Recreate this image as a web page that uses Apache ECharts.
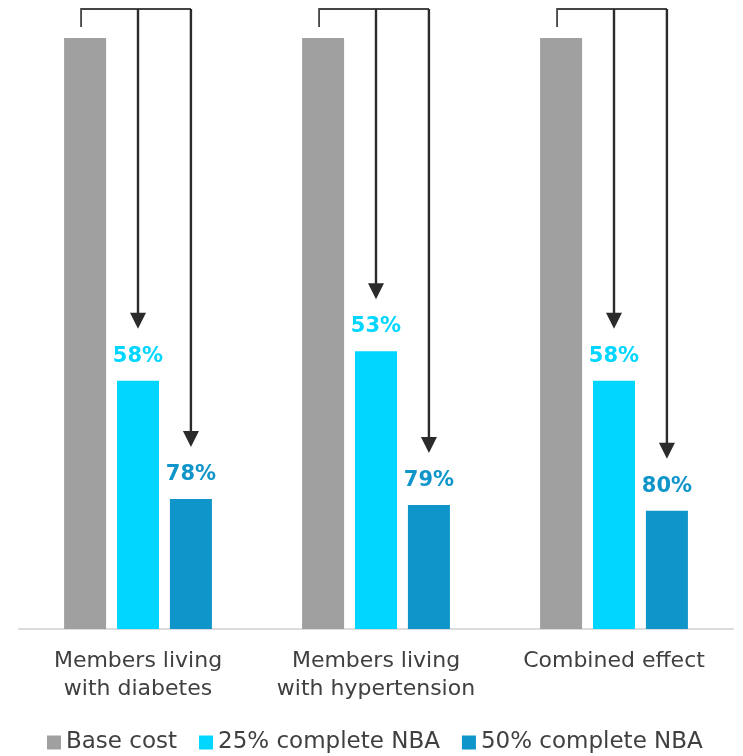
<!DOCTYPE html>
<html>
<head>
<meta charset="utf-8">
<script src="https://cdn.jsdelivr.net/npm/echarts@6/dist/echarts.min.js"></script>
<style>
  html, body { margin: 0; padding: 0; background: #ffffff; }
  #chart { width: 743px; height: 756px; }
</style>
</head>
<body>
<div id="chart"></div>
<script>
// Cost per member, indexed to base cost = 100
const categories = ['Members living\nwith diabetes', 'Members living\nwith hypertension', 'Combined effect'];
const seriesNames = ['Base cost', '25% complete NBA', '50% complete NBA'];
const baseCost = [100, 100, 100];
// Reduction in cost (percent) at each NBA completion level
const reduction25 = [58, 53, 58];
const reduction50 = [78, 79, 80];

const remaining25 = reduction25.map(r => 100 - r);
const remaining50 = reduction50.map(r => 100 - r);

const COLORS = ['#a0a0a0', '#00d6ff', '#0f95c9'];
const FONT = 'DejaVu Sans';
const BAR_W = 42;
const BAR_GAP = 0.26;

const chart = echarts.init(document.getElementById('chart'), null, { renderer: 'canvas' });

function pctLabel(values, color) {
  return {
    show: true,
    position: 'top',
    distance: 14,
    color: color,
    fontFamily: FONT,
    fontWeight: 'bold',
    fontSize: 21,
    formatter: p => values[p.dataIndex] + '%'
  };
}

// Bracket from the base bar, with arrows down to each reduced bar
function renderBracket(params, api) {
  const idx = api.value(0);
  const base = api.coord([idx, api.value(1)]);
  const p25 = api.coord([idx, api.value(2)]);
  const p50 = api.coord([idx, api.value(3)]);
  const step = BAR_W * (1 + BAR_GAP);
  const cx = base[0];
  const xs = cx - step - 4;
  const x1 = cx;
  const x2 = cx + step;
  const topY = base[1] - 29;
  const stubY = base[1] - 11;
  const tip1 = p25[1] - 52;
  const tip2 = p50[1] - 52;
  const head = 16, halfHead = 8;
  const lineStyle = { stroke: '#2b2b2b', lineWidth: 2.4, fill: null };
  const thin = { stroke: '#444444', lineWidth: 1.8, fill: null };
  return {
    type: 'group',
    children: [
      { type: 'polyline', shape: { points: [[xs, stubY], [xs, topY], [x2, topY]] }, style: thin },
      { type: 'line', shape: { x1: x1, y1: topY, x2: x1, y2: tip1 - head + 1 }, style: lineStyle },
      { type: 'line', shape: { x1: x2, y1: topY, x2: x2, y2: tip2 - head + 1 }, style: lineStyle },
      { type: 'polygon', shape: { points: [[x1 - halfHead, tip1 - head], [x1 + halfHead, tip1 - head], [x1, tip1]] }, style: { fill: '#2b2b2b' } },
      { type: 'polygon', shape: { points: [[x2 - halfHead, tip2 - head], [x2 + halfHead, tip2 - head], [x2, tip2]] }, style: { fill: '#2b2b2b' } }
    ]
  };
}

const option = {
  animation: false,
  backgroundColor: '#ffffff',
  grid: { left: 19, right: 10, top: 38, bottom: 127, containLabel: false },
  legend: {
    data: seriesNames,
    bottom: -3,
    left: 42,
    icon: 'rect',
    itemWidth: 14,
    itemHeight: 14,
    itemGap: 22,
    itemTextGap: 5,
    textStyle: { fontFamily: FONT, fontSize: 23, color: '#404040' }
  },
  xAxis: {
    type: 'category',
    data: categories,
    axisLine: { lineStyle: { color: '#dcdcdc', width: 2 } },
    axisTick: { show: false },
    axisLabel: {
      fontFamily: FONT,
      fontSize: 22,
      color: '#404040',
      lineHeight: 28,
      margin: 18,
      interval: 0
    }
  },
  yAxis: { type: 'value', min: 0, max: 100, show: false, splitLine: { show: false } },
  series: [
    {
      name: seriesNames[0], type: 'bar', data: baseCost,
      barWidth: BAR_W, barGap: (BAR_GAP * 100) + '%',
      itemStyle: { color: COLORS[0] }
    },
    {
      name: seriesNames[1], type: 'bar', data: remaining25,
      barWidth: BAR_W,
      itemStyle: { color: COLORS[1] },
      label: pctLabel(reduction25, COLORS[1])
    },
    {
      name: seriesNames[2], type: 'bar', data: remaining50,
      barWidth: BAR_W,
      itemStyle: { color: COLORS[2] },
      label: pctLabel(reduction50, COLORS[2])
    },
    {
      type: 'custom',
      name: 'bracket',
      clip: false,
      silent: true,
      renderItem: renderBracket,
      encode: { x: 0, y: 1 },
      data: categories.map((c, i) => [i, baseCost[i], remaining25[i], remaining50[i]]),
      z: 5
    }
  ]
};

chart.setOption(option);
</script>
</body>
</html>
